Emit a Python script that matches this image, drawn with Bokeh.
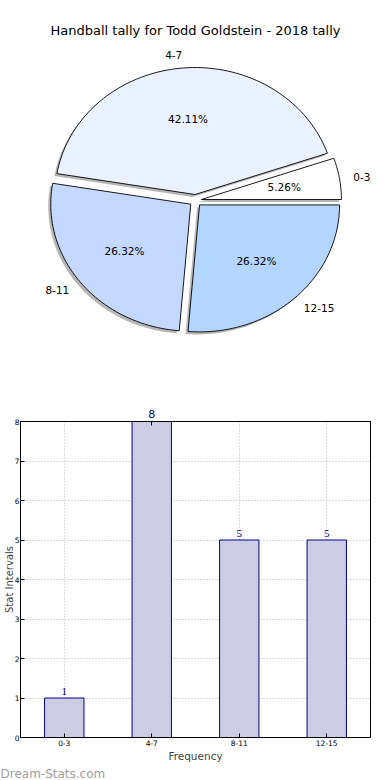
import math
from bokeh.plotting import figure
from bokeh.models import (Range1d, LabelSet, ColumnDataSource, LinearAxis, FixedTicker)
from bokeh.layouts import column
from bokeh.embed import file_html
from bokeh.resources import INLINE
from bokeh.core.properties import value

# ---------------- data ----------------
title_text = "Handball tally for Todd Goldstein - 2018 tally"
categories = ["0-3", "4-7", "8-11", "12-15"]
counts = [1, 8, 5, 5]
pie_colors = ["#ffffff", "#eaf1ff", "#c5d8ff", "#b4d5ff"]
y_ticks = [0, 1, 2, 3, 4, 5, 6, 7, 8]
y_max = 8
x_label = "Frequency"
y_label = "Stat Intervals"
watermark = "Dream-Stats.com"

FONT = "DejaVu Sans"
BORDER_L, BORDER_R = 20, 4
W = 374
PIE_H, BAR_H = 388, 392

# ---------------- pie ----------------
CX, CY = 195.0, 200.0
RX, RY = 140.0, 127.0
EXPLODE = 6.0
SH_DX, SH_DY = -2.5, 2.5

pie = figure(width=W, height=PIE_H, x_range=Range1d(BORDER_L, W - BORDER_R),
             y_range=Range1d(PIE_H, 0),
             x_axis_type=None, y_axis_type=None, toolbar_location=None,
             output_backend="svg", min_border_left=BORDER_L, min_border_right=BORDER_R,
             min_border_top=0, min_border_bottom=0, outline_line_color=None)
pie.grid.visible = False

total = float(sum(counts))
xs, ys, sxs, sys_ = [], [], [], []
lab_x, lab_y, lab_align, pct_x, pct_y, pct_text = [], [], [], [], [], []
start = 0.0
for c in counts:
    frac = c / total
    a0 = start * 2 * math.pi
    a1 = (start + frac) * 2 * math.pi
    mid = (a0 + a1) / 2
    ox = CX + EXPLODE * math.cos(mid)
    oy = CY - EXPLODE * math.sin(mid)
    n = max(8, int(200 * frac))
    px = [ox] + [ox + RX * math.cos(a0 + (a1 - a0) * i / n) for i in range(n + 1)]
    py = [oy] + [oy - RY * math.sin(a0 + (a1 - a0) * i / n) for i in range(n + 1)]
    xs.append(px); ys.append(py)
    sxs.append([v + SH_DX for v in px]); sys_.append([v + SH_DY for v in py])
    lab_x.append(ox + 1.1 * RX * math.cos(mid))
    lab_y.append(oy - 1.1 * RY * math.sin(mid))
    lab_align.append("left" if math.cos(mid) > 0 else "right")
    pct_x.append(ox + 0.6 * RX * math.cos(mid))
    pct_y.append(oy - 0.6 * RY * math.sin(mid))
    pct_text.append("%.2f%%" % (100 * frac))
    start += frac

pie.patches(xs=sxs, ys=sys_, fill_color="#7a7a7a", fill_alpha=0.55, line_color=None)
pie.patches(xs=xs, ys=ys, fill_color=pie_colors, line_color="black", line_width=0.9)

pie.text(x=lab_x, y=lab_y, text=categories, text_align=lab_align, text_baseline="middle",
         text_font=value(FONT), text_font_size="10.5px", text_color="black")
pie.text(x=pct_x, y=pct_y, text=pct_text, text_align="center", text_baseline="middle",
         text_font=value(FONT), text_font_size="10.5px", text_color="black")
pie.text(x=[CX], y=[30], text=[title_text], text_align="center", text_baseline="middle",
         text_font=value(FONT), text_font_size="13px", text_color="black")

# ---------------- bars ----------------
pos = [i + 0.5 for i in range(len(categories))]
inside_lbl = ["" if v >= y_max else str(v) for v in counts]
top_pos = [p for p, v in zip(pos, counts) if v >= y_max]
top_over = {p: str(v) for p, v in zip(pos, counts) if v >= y_max}
cat_over = {p: c for p, c in zip(pos, categories)}
src = ColumnDataSource(dict(x=pos, count=counts, lbl=inside_lbl))
bar = figure(width=W, height=BAR_H, x_range=Range1d(0, len(categories)), y_range=Range1d(0, y_max),
             toolbar_location=None, output_backend="svg",
             min_border_left=BORDER_L, min_border_right=BORDER_R,
             min_border_top=33, min_border_bottom=0)
bar.vbar(x="x", top="count", width=0.45, source=src, fill_color="#ccccE5",
         line_color="#000080", line_width=1)
bar.add_layout(LabelSet(x="x", y="count", text="lbl", source=src, text_align="center",
                        text_baseline="bottom", y_offset=3, text_font=FONT,
                        text_font_size="11px", text_color="#000080"))

top_axis = LinearAxis(ticker=FixedTicker(ticks=top_pos), major_label_overrides=top_over)
bar.add_layout(top_axis, "above")

bar.outline_line_color = "black"
bar.outline_line_width = 1
bar.outline_line_alpha = 1

bx = bar.below[0]
ly = bar.left[0]
bx.ticker = FixedTicker(ticks=pos)
bx.major_label_overrides = cat_over
ly.ticker = FixedTicker(ticks=y_ticks)
bar.xgrid.ticker = FixedTicker(ticks=pos)
bar.ygrid.ticker = FixedTicker(ticks=y_ticks)
for g in (bar.xgrid, bar.ygrid):
    g.grid_line_color = "#b8b8b8"
    g.grid_line_dash = "1 2"
    g.grid_line_width = 1

for ax in (bx, ly, top_axis):
    ax.major_tick_in = 4
    ax.major_tick_out = 0
    ax.minor_tick_line_color = None
    ax.axis_line_color = "black"
    ax.major_label_text_font = FONT
    ax.major_label_text_font_size = "7.5px"
    ax.major_label_text_color = "black"
    ax.major_label_standoff = 2
ly.major_label_standoff = 1
top_axis.major_label_text_font_size = "11px"
top_axis.major_label_text_color = "#000080"
top_axis.major_label_standoff = 4

bx.axis_label = x_label
bx.axis_label_text_font = FONT
bx.axis_label_text_font_size = "10.5px"
bx.axis_label_text_font_style = "normal"
bx.axis_label_standoff = 1

ly.axis_label = y_label
ly.axis_label_text_font = FONT
ly.axis_label_text_font_size = "10px"
ly.axis_label_text_font_style = "normal"
ly.axis_label_standoff = -3

bar.title.text = watermark
bar.title_location = "below"
bar.title.align = "left"
bar.title.text_font = FONT
bar.title.text_font_size = "12px"
bar.title.text_font_style = "normal"
bar.title.text_color = "#a0a0a0"
bar.title.text_line_height = 0.9
bar.title.standoff = 0
bar.title.offset = -BORDER_L

layout = column(pie, bar, spacing=0)
open("out.html", "w").write(file_html(layout, INLINE))
